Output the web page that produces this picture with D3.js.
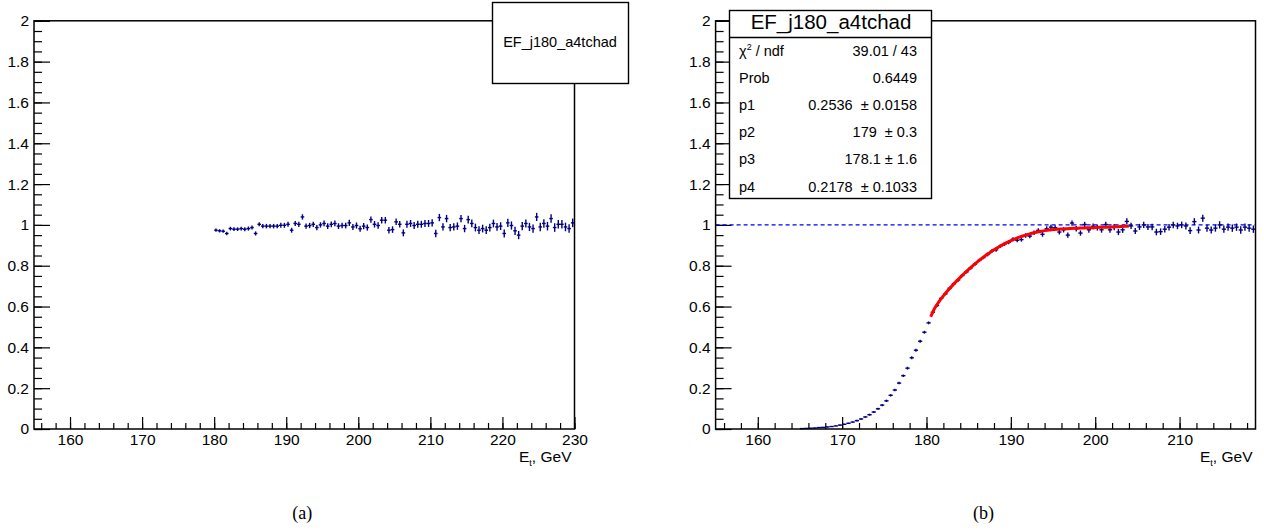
<!DOCTYPE html>
<html>
<head>
<meta charset="utf-8">
<script src="https://cdn.jsdelivr.net/npm/d3@7"></script>
<style>
  body { margin: 0; background: #fff; }
  svg { display: block; font-family: "Liberation Sans", Arial, sans-serif; }
</style>
</head>
<body>
<svg width="1264" height="531"></svg>
<script>
const histName = "EF_j180_a4tchad";

// bin centres, 0.5 GeV bins
const leftBins = d3.range(180.25, 230, 0.5);
const leftEff = [
  0.974, 0.971, 0.969, 0.958, 0.982, 0.979, 0.979, 0.982, 0.979, 0.982,
  0.987, 0.958, 1.003, 0.994, 0.994, 0.994, 0.994, 0.994, 0.998, 0.998,
  1.003, 0.974, 1.007, 1.003, 1.039, 0.994, 0.997, 1.003, 0.987, 1.000,
  1.007, 0.994, 1.003, 1.007, 0.994, 0.997, 0.997, 1.010, 0.990, 0.997,
  0.981, 0.994, 0.987, 1.026, 1.003, 0.997, 1.023, 1.023, 0.974, 0.977,
  1.015, 1.003, 0.961, 1.003, 1.007, 0.997, 1.003, 1.003, 1.007, 1.007,
  1.010, 0.958, 1.036, 0.990, 1.031, 0.987, 0.990, 0.994, 1.031, 0.982,
  1.026, 1.007, 0.987, 0.974, 0.982, 0.974, 0.987, 1.007, 0.990, 0.994,
  0.958, 1.010, 0.997, 0.971, 0.950, 0.994, 1.007, 0.990, 0.982, 1.039,
  0.990, 1.007, 0.994, 1.031, 0.987, 1.003, 1.003, 0.990, 0.982, 1.010,
];
const leftErr = [
  0.008, 0.008, 0.008, 0.009, 0.009, 0.009, 0.009, 0.009, 0.010, 0.010,
  0.010, 0.010, 0.010, 0.011, 0.011, 0.011, 0.011, 0.011, 0.012, 0.012,
  0.012, 0.012, 0.012, 0.013, 0.013, 0.013, 0.013, 0.013, 0.013, 0.013,
  0.014, 0.014, 0.014, 0.014, 0.014, 0.014, 0.014, 0.015, 0.015, 0.015,
  0.015, 0.015, 0.015, 0.015, 0.016, 0.016, 0.016, 0.016, 0.016, 0.016,
  0.016, 0.016, 0.017, 0.017, 0.017, 0.017, 0.017, 0.017, 0.017, 0.017,
  0.018, 0.018, 0.018, 0.018, 0.018, 0.018, 0.018, 0.018, 0.018, 0.018,
  0.019, 0.019, 0.019, 0.019, 0.019, 0.019, 0.019, 0.019, 0.019, 0.019,
  0.020, 0.020, 0.020, 0.020, 0.020, 0.020, 0.020, 0.020, 0.020, 0.020,
  0.021, 0.021, 0.021, 0.021, 0.021, 0.021, 0.021, 0.021, 0.021, 0.021,
];

const rightBins = d3.range(165.25, 219, 0.5);
const rightEff = [
  // 165.25 - 180.25
  0.002, 0.003, 0.004, 0.005, 0.007, 0.008, 0.010, 0.012, 0.015, 0.019,
  0.023, 0.028, 0.034, 0.041, 0.049, 0.059, 0.070, 0.083, 0.099, 0.117,
  0.138, 0.165, 0.191, 0.225, 0.261, 0.298, 0.349, 0.386, 0.430, 0.474,
  0.520,
  // 180.75 - 193.25
  0.572, 0.605, 0.640, 0.662, 0.690, 0.712, 0.730, 0.752, 0.770, 0.790,
  0.808, 0.826, 0.840, 0.855, 0.872, 0.878, 0.896, 0.906, 0.915, 0.930,
  0.925, 0.928, 0.948, 0.945, 0.962, 0.973,
  // 193.75 - 204.25
  0.954, 0.981, 0.989, 0.986, 0.965, 0.976, 0.950, 1.009, 0.981, 0.960,
  1.002, 0.976, 0.993, 0.986, 0.976, 1.002, 0.976, 0.989, 0.965, 0.976,
  1.017, 0.995,
  // 204.75 - 218.75
  0.970, 0.990, 1.000, 0.990, 0.990, 0.965, 0.967, 0.979, 0.989, 1.000,
  0.995, 1.000, 0.995, 0.972, 1.016, 0.975, 1.033, 0.984, 0.975, 0.984,
  1.000, 0.979, 0.989, 0.984, 0.989, 0.975, 0.989, 0.984, 0.979,
];
const rightErr = [
  0.001, 0.001, 0.001, 0.001, 0.002, 0.002, 0.002, 0.002, 0.002, 0.003,
  0.003, 0.003, 0.003, 0.004,
  0.004, 0.004, 0.005, 0.005, 0.005, 0.005, 0.006, 0.006, 0.006, 0.006,
  0.006, 0.007, 0.007, 0.007, 0.007, 0.007, 0.007,
  0.007, 0.007, 0.007, 0.007, 0.007, 0.007, 0.008, 0.008, 0.008, 0.008,
  0.008, 0.008, 0.008, 0.009, 0.009, 0.009, 0.009, 0.009, 0.010, 0.010,
  0.010, 0.010, 0.011, 0.011, 0.011, 0.011,
  0.012, 0.012, 0.012, 0.012, 0.012, 0.013, 0.013, 0.013, 0.013, 0.013,
  0.013, 0.014, 0.014, 0.014, 0.014, 0.014, 0.014, 0.015, 0.015, 0.015,
  0.015, 0.015,
  0.015, 0.015, 0.015, 0.015, 0.016, 0.016, 0.016, 0.016, 0.016, 0.016,
  0.016, 0.016, 0.017, 0.017, 0.017, 0.017, 0.017, 0.017, 0.017, 0.017,
  0.018, 0.018, 0.018, 0.018, 0.018, 0.018, 0.018, 0.018, 0.018,
];

// fitted curve
const fitX = d3.range(180.5, 204.01, 0.5);
const fitY = [
  0.550, 0.594, 0.625, 0.652, 0.677, 0.700, 0.722, 0.743, 0.763, 0.782,
  0.801, 0.818, 0.834, 0.850, 0.864, 0.878, 0.890, 0.902, 0.913, 0.923,
  0.932, 0.940, 0.947, 0.953, 0.959, 0.964, 0.968, 0.972, 0.975, 0.977,
  0.979, 0.980, 0.981, 0.982, 0.983, 0.984, 0.985, 0.986, 0.986, 0.987,
  0.988, 0.989, 0.989, 0.990, 0.991, 0.992, 0.993, 0.994,
];

const yMajor = [0, 0.2, 0.4, 0.6, 0.8, 1, 1.2, 1.4, 1.6, 1.8, 2];
const yLabels = ["0", "0.2", "0.4", "0.6", "0.8", "1", "1.2", "1.4", "1.6", "1.8", "2"];
const yMinor = d3.range(0, 2.001, 0.05);
const leftXMajor = [160, 170, 180, 190, 200, 210, 220, 230];
const rightXMajor = [160, 170, 180, 190, 200, 210];

const statLabels = ["χ", "Prob", "p1", "p2", "p3", "p4"];
const statValues = ["39.01 / 43", "0.6449", "0.2536  ± 0.0158", "179  ± 0.3", "178.1 ± 1.6", "0.2178  ± 0.1033"];

const svg = d3.select("svg");
const yTop = 20.8;
const yBottom = 429;
const markColor = "#000080";

function drawPanel(cfg) {
  const g = svg.append("g");
  const x = d3.scaleLinear().domain(cfg.xDomain).range([cfg.left, cfg.right]);
  const y = d3.scaleLinear().domain([0, 2]).range([yBottom, yTop]);

  // x ticks (pointing up into the frame)
  g.append("g")
    .attr("transform", `translate(0,${yBottom})`)
    .call(d3.axisBottom(x).tickValues(d3.range(156, cfg.xDomain[1] + 0.01, 2)).tickSizeInner(-6).tickSizeOuter(0).tickFormat(""))
    .call((a) => a.select(".domain").remove());
  g.append("g")
    .attr("transform", `translate(0,${yBottom})`)
    .call(d3.axisBottom(x).tickValues(cfg.xMajor).tickSizeInner(-12).tickSizeOuter(0).tickPadding(5).tickFormat(d3.format("d")))
    .call((a) => a.select(".domain").remove())
    .attr("font-size", 15.5)
    .attr("font-family", null);

  // y ticks
  g.append("g")
    .attr("transform", `translate(${cfg.left},0)`)
    .call(d3.axisLeft(y).tickValues(yMinor).tickSizeInner(-8).tickSizeOuter(0).tickFormat(""))
    .call((a) => a.select(".domain").remove());
  g.append("g")
    .attr("transform", `translate(${cfg.left},0)`)
    .call(d3.axisLeft(y).tickValues(yMajor).tickSizeInner(-16).tickSizeOuter(0).tickPadding(5).tickFormat((d, i) => yLabels[i]))
    .call((a) => a.select(".domain").remove())
    .attr("font-size", 15.5)
    .attr("font-family", null);

  g.selectAll(".tick line").attr("stroke-width", 1.2);
  g.selectAll(".tick text").attr("fill", "#000");

  // axis title
  const title = g.append("text")
    .attr("x", cfg.right - 3)
    .attr("y", 462)
    .attr("text-anchor", "end")
    .attr("font-size", 15.5);
  title.append("tspan").text("E");
  title.append("tspan").attr("font-size", 9).attr("dy", 4).text("t");
  title.append("tspan").attr("dy", -4).text(", GeV");

  if (cfg.unityLine) {
    g.append("line")
      .attr("x1", cfg.left).attr("x2", cfg.right)
      .attr("y1", y(1)).attr("y2", y(1))
      .attr("stroke", "#0000ee")
      .attr("stroke-width", 1.1)
      .attr("stroke-dasharray", "4,3");
  }

  // efficiency points with error bars
  const pts = g.append("g").attr("stroke", markColor).attr("stroke-width", 1.4);
  const data = cfg.bins.map((b, i) => ({ b, v: cfg.eff[i], e: cfg.err[i] }));
  pts.selectAll("line.h")
    .data(data)
    .join("line")
    .attr("class", "h")
    .attr("x1", (d) => x(d.b - 0.25))
    .attr("x2", (d) => x(d.b + 0.25))
    .attr("y1", (d) => y(d.v))
    .attr("y2", (d) => y(d.v));
  pts.selectAll("line.v")
    .data(data)
    .join("line")
    .attr("class", "v")
    .attr("x1", (d) => x(d.b))
    .attr("x2", (d) => x(d.b))
    .attr("y1", (d) => y(d.v - d.e))
    .attr("y2", (d) => y(d.v + d.e));

  if (cfg.fit) {
    g.append("path")
      .datum(cfg.fit.x.map((v, i) => [v, cfg.fit.y[i]]))
      .attr("fill", "none")
      .attr("stroke", "#ff0000")
      .attr("stroke-width", 3)
      .attr("d", d3.line().x((d) => x(d[0])).y((d) => y(d[1])).curve(d3.curveMonotoneX));
  }

  // frame
  g.append("rect")
    .attr("x", cfg.left).attr("y", yTop)
    .attr("width", cfg.right - cfg.left).attr("height", yBottom - yTop)
    .attr("fill", "none").attr("stroke", "#000").attr("stroke-width", 1.5);

  // caption
  g.append("text")
    .attr("x", (cfg.left + cfg.right) / 2 - 2)
    .attr("y", 519)
    .attr("text-anchor", "middle")
    .attr("font-family", "'Liberation Serif', 'DejaVu Serif', serif")
    .attr("font-size", 18)
    .text(cfg.caption);

  return g;
}

// (a)
const left = drawPanel({
  xDomain: [155, 230], left: 34, right: 574.5,
  xMajor: leftXMajor, bins: leftBins, eff: leftEff, err: leftErr,
  caption: "(a)",
});
left.append("rect")
  .attr("x", 492.5).attr("y", 2.5).attr("width", 136).attr("height", 81)
  .attr("fill", "#fff").attr("stroke", "#000").attr("stroke-width", 1.4);
left.append("text")
  .attr("x", 560).attr("y", 47)
  .attr("text-anchor", "middle")
  .attr("font-size", 14.5)
  .text(histName);

// (b)
const right = drawPanel({
  xDomain: [155, 219], left: 715.6, right: 1255.5,
  xMajor: rightXMajor, bins: rightBins, eff: rightEff, err: rightErr,
  unityLine: true, fit: { x: fitX, y: fitY },
  caption: "(b)",
});
right.append("rect")
  .attr("x", 729.5).attr("y", 10.5).attr("width", 202).attr("height", 188)
  .attr("fill", "#fff").attr("stroke", "#000").attr("stroke-width", 1.4);
right.append("line")
  .attr("x1", 729.5).attr("x2", 931.5).attr("y1", 37.5).attr("y2", 37.5)
  .attr("stroke", "#000").attr("stroke-width", 1.4);
right.append("text")
  .attr("x", 831).attr("y", 29)
  .attr("text-anchor", "middle")
  .attr("font-size", 20.5)
  .text(histName);

const rowY = d3.scaleLinear().domain([0, 5]).range([56, 191.5]);
statLabels.forEach((lab, i) => {
  const t = right.append("text")
    .attr("x", 739).attr("y", rowY(i))
    .attr("font-size", 14.5);
  t.append("tspan").text(lab);
  if (i === 0) {
    t.append("tspan").attr("font-size", 9).attr("dy", -6).text("2");
    t.append("tspan").attr("dy", 6).text(" / ndf");
  }
  right.append("text")
    .attr("x", 917).attr("y", rowY(i))
    .attr("text-anchor", "end")
    .attr("font-size", 14.5)
    .attr("xml:space", "preserve")
    .style("white-space", "pre")
    .text(statValues[i]);
});
</script>
</body>
</html>
